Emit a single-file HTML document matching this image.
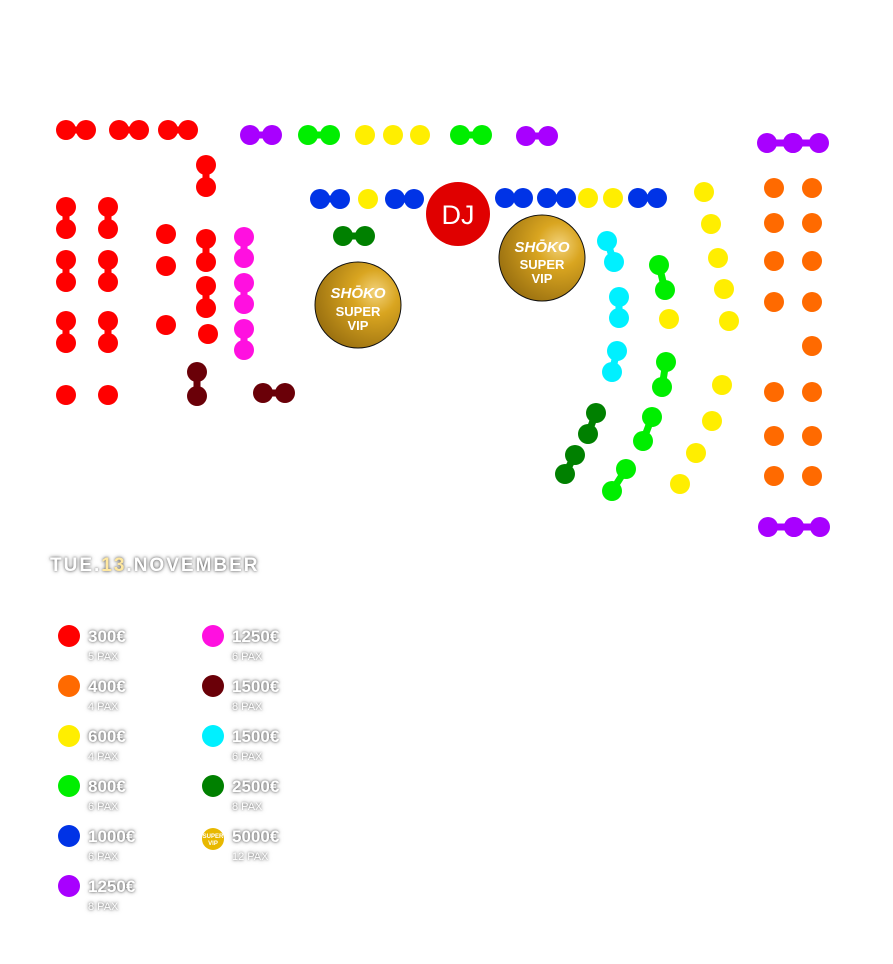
<!DOCTYPE html>
<html><head><meta charset="utf-8"><style>
body{margin:0;background:#fff;width:893px;height:964px;overflow:hidden;font-family:"Liberation Sans",sans-serif}
svg{position:absolute;left:0;top:0}
.t{position:absolute;color:#fff;text-shadow:0 0 4px rgba(0,0,0,.55),0 0 2px rgba(0,0,0,.4)}
.p{font-weight:bold;font-size:17px}
.x{font-size:11px}
</style></head><body>
<svg width="893" height="964" viewBox="0 0 893 964">
<defs>
<radialGradient id="g" cx="70%" cy="35%" r="75%"><stop offset="0" stop-color="#f2d27a"/><stop offset=".35" stop-color="#d9a520"/><stop offset="1" stop-color="#9a7010"/></radialGradient>
</defs>
<g id="dots"></g>
<circle cx="458" cy="214" r="32" fill="#e00000"/>
<text x="458" y="224" font-size="27" fill="#fff" text-anchor="middle" font-family="Liberation Sans">DJ</text>
<g font-family="Liberation Sans" font-weight="bold" fill="#fff" text-anchor="middle">
<circle cx="358" cy="305" r="43" fill="url(#g)" stroke="#111" stroke-width="1"/>
<text x="358" y="298" font-size="15" font-style="italic">SHŌKO</text><text x="358" y="316" font-size="13">SUPER</text><text x="358" y="330" font-size="13">VIP</text>
<circle cx="542" cy="258" r="43" fill="url(#g)" stroke="#111" stroke-width="1"/>
<text x="542" y="252" font-size="15" font-style="italic">SHŌKO</text><text x="542" y="269" font-size="13">SUPER</text><text x="542" y="283" font-size="13">VIP</text>
<circle cx="213" cy="839" r="11" fill="#e8b800"/>
<text x="213" y="838" font-size="6">SUPER</text><text x="213" y="845" font-size="6">VIP</text>
</g>
</svg>
<script>
var R='#ff0000',O='#ff6a00',Y='#ffee00',G='#00ee00',B='#0033e6',P='#a800ff',M='#ff10e0',D='#6a0008',C='#00f0ff',K='#008000';
var s='';
function d(c,x,y){s+='<circle cx="'+x+'" cy="'+y+'" r="10" fill="'+c+'"/>';}
function pr(c,x1,y1,x2,y2){s+='<line x1="'+x1+'" y1="'+y1+'" x2="'+x2+'" y2="'+y2+'" stroke="'+c+'" stroke-width="7"/>';d(c,x1,y1);d(c,x2,y2);}
pr(R,66,130,86,130);pr(R,119,130,139,130);pr(R,168,130,188,130);
pr(P,250,135,272,135);pr(G,308,135,330,135);d(Y,365,135);d(Y,393,135);d(Y,420,135);pr(G,460,135,482,135);pr(P,526,136,548,136);
pr(P,767,143,793,143);pr(P,793,143,819,143);pr(P,768,527,794,527);pr(P,794,527,820,527);
pr(B,320,199,340,199);d(Y,368,199);pr(B,395,199,414,199);pr(B,505,198,523,198);pr(B,547,198,566,198);d(Y,588,198);d(Y,613,198);pr(B,638,198,657,198);
pr(K,343,236,365,236);
[66,108].forEach(function(x){pr(R,x,207,x,229);pr(R,x,260,x,282);pr(R,x,321,x,343);d(R,x,395);});
d(R,166,234);d(R,166,266);d(R,166,325);
pr(R,206,165,206,187);pr(R,206,239,206,262);pr(R,206,286,206,308);d(R,208,334);
pr(M,244,237,244,258);pr(M,244,283,244,304);pr(M,244,329,244,350);
pr(D,197,372,197,396);pr(D,263,393,285,393);
pr(C,607,241,614,262);pr(C,619,297,619,318);pr(C,617,351,612,372);
pr(G,659,265,665,290);d(Y,669,319);pr(G,666,362,662,387);pr(G,652,417,643,441);pr(G,626,469,612,491);
pr(K,596,413,588,434);pr(K,575,455,565,474);
[[704,192],[711,224],[718,258],[724,289],[729,321],[722,385],[712,421],[696,453],[680,484]].forEach(function(a){d(Y,a[0],a[1]);});
[188,223,261,302,392,436,476].forEach(function(y){d(O,774,y);d(O,812,y);});d(O,812,346);
[[R,636],[O,686],[Y,736],[G,786],[B,836],[P,886]].forEach(function(a){s+='<circle cx="69" cy="'+a[1]+'" r="11" fill="'+a[0]+'"/>';});
[[M,636],[D,686],[C,736],[K,786]].forEach(function(a){s+='<circle cx="213" cy="'+a[1]+'" r="11" fill="'+a[0]+'"/>';});
document.getElementById('dots').innerHTML=s;
</script>
<div class="t" style="left:50px;top:555px;font-size:19px;font-weight:bold;letter-spacing:2px">TUE.<span style="color:#ffe8a0">13</span>.NOVEMBER</div>
<div class="t p" style="left:88px;top:627px">300€</div><div class="t x" style="left:88px;top:651px">5 PAX</div>
<div class="t p" style="left:88px;top:677px">400€</div><div class="t x" style="left:88px;top:701px">4 PAX</div>
<div class="t p" style="left:88px;top:727px">600€</div><div class="t x" style="left:88px;top:751px">4 PAX</div>
<div class="t p" style="left:88px;top:777px">800€</div><div class="t x" style="left:88px;top:801px">6 PAX</div>
<div class="t p" style="left:88px;top:827px">1000€</div><div class="t x" style="left:88px;top:851px">6 PAX</div>
<div class="t p" style="left:88px;top:877px">1250€</div><div class="t x" style="left:88px;top:901px">8 PAX</div>
<div class="t p" style="left:232px;top:627px">1250€</div><div class="t x" style="left:232px;top:651px">6 PAX</div>
<div class="t p" style="left:232px;top:677px">1500€</div><div class="t x" style="left:232px;top:701px">8 PAX</div>
<div class="t p" style="left:232px;top:727px">1500€</div><div class="t x" style="left:232px;top:751px">6 PAX</div>
<div class="t p" style="left:232px;top:777px">2500€</div><div class="t x" style="left:232px;top:801px">8 PAX</div>
<div class="t p" style="left:232px;top:827px">5000€</div><div class="t x" style="left:232px;top:851px">12 PAX</div>
</body></html>
